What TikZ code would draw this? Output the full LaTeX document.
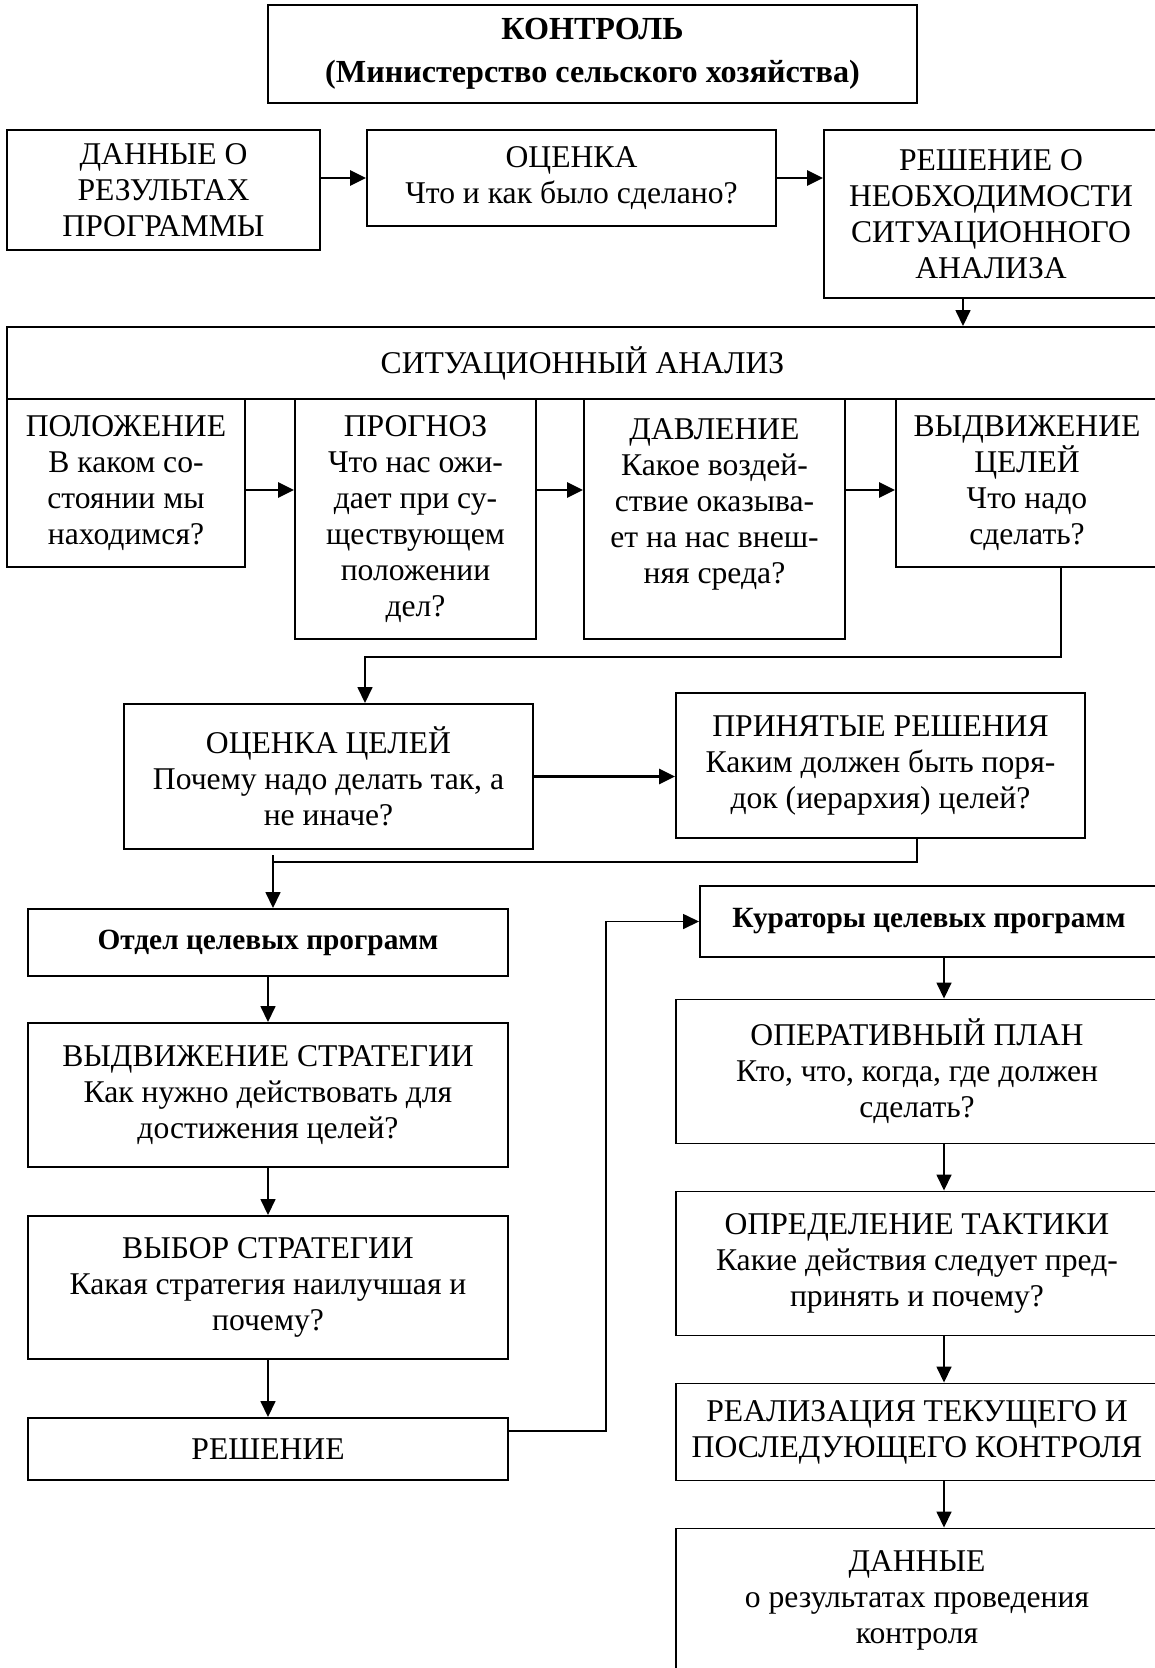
\documentclass[tikz,border=0pt]{standalone}
\usepackage{fontspec}
\setmainfont{Liberation Serif}
\usepackage{tikz}
\usetikzlibrary{shapes.geometric, arrows.meta}
\tikzstyle{block} = [rectangle, draw=black, line width=1.1pt, text centered, align=center, inner sep=2pt, font=\fontsize{18}{20.5}\selectfont]
\tikzstyle{titleblock} = [block, font=\bfseries\fontsize{18.3}{24.7}\selectfont]
\tikzstyle{boldblock} = [block, font=\bfseries\fontsize{16.7}{19}\selectfont]
\tikzstyle{arrow} = [line width=0.9pt,->,>={Triangle[length=0.32cm,width=0.3cm]}]
\tikzstyle{thickarrow} = [arrow, line width=1.6pt]
\tikzstyle{connector} = [line width=0.9pt]

\begin{document}
\begin{tikzpicture}[node distance=3cm]
                \useasboundingbox (0,0) rectangle (23.1,-33.36);
                \clip (0,0) rectangle (23.1,-33.36);

                \node (control) [titleblock, minimum width=12.98cm, minimum height=1.96cm] at (11.85,-1.08) {КОНТРОЛЬ\\(Министерство сельского хозяйства)};
                \node (data) [block, minimum width=6.26cm, minimum height=2.4cm] at (3.27,-3.8) {ДАННЫЕ О\\РЕЗУЛЬТАХ\\ПРОГРАММЫ};
                \node (eval) [block, minimum width=8.18cm, minimum height=1.92cm] at (11.43,-3.56) {ОЦЕНКА\\Что и как было сделано?};
                \node (decide) [block, minimum width=6.68cm, minimum height=3.36cm] at (19.82,-4.28) {РЕШЕНИЕ О\\НЕОБХОДИМОСТИ\\СИТУАЦИОННОГО\\АНАЛИЗА};

                \node (sit) [block, minimum width=23.02cm, minimum height=1.44cm] at (11.65,-7.26) {СИТУАЦИОННЫЙ АНАЛИЗ};
                \node (pos) [block, minimum width=4.76cm, minimum height=3.36cm] at (2.52,-9.66) {ПОЛОЖЕНИЕ\\В каком со-\\стоянии мы\\находимся?};
                \node (forecast) [block, minimum width=4.82cm, minimum height=4.8cm] at (8.31,-10.38) {ПРОГНОЗ\\Что нас ожи-\\дает при су-\\ществующем\\положении\\дел?};
                \node (pressure) [block, minimum width=5.22cm, minimum height=4.8cm] at (14.29,-10.38) {ДАВЛЕНИЕ\\Какое воздей-\\ствие оказыва-\\ет на нас внеш-\\няя среда?\\\mbox{}};
                \node (goals) [block, minimum width=5.24cm, minimum height=3.36cm] at (20.54,-9.66) {ВЫДВИЖЕНИЕ\\ЦЕЛЕЙ\\Что надо\\сделать?};

                \node (goaleval) [block, minimum width=8.18cm, minimum height=2.9cm] at (6.57,-15.53) {ОЦЕНКА ЦЕЛЕЙ\\Почему надо делать так, а\\не иначе?};
                \node (accepted) [block, minimum width=8.18cm, minimum height=2.9cm] at (17.61,-15.31) {ПРИНЯТЫЕ РЕШЕНИЯ\\Каким должен быть поря-\\док (иерархия) целей?};

                \node (dept) [boldblock, minimum width=9.6cm, minimum height=1.34cm] at (5.36,-18.85) {Отдел целевых программ};
                \node (strat) [block, minimum width=9.6cm, minimum height=2.88cm, below of=dept, yshift=-0.05cm] {ВЫДВИЖЕНИЕ СТРАТЕГИИ\\Как нужно действовать для\\достижения целей?};
                \node (choice) [block, minimum width=9.6cm, minimum height=2.86cm, below of=strat, yshift=-0.85cm] {ВЫБОР СТРАТЕГИИ\\Какая стратегия наилучшая и\\почему?};
                \node (solution) [block, minimum width=9.6cm, minimum height=1.24cm, below of=choice, yshift=-0.23cm] {РЕШЕНИЕ};

                \node (curators) [boldblock, minimum width=9.16cm, minimum height=1.42cm] at (18.58,-18.43) {Кураторы целевых программ};
                \node (opplan) [block, minimum width=9.64cm, minimum height=2.88cm, below of=curators, xshift=-0.24cm] {ОПЕРАТИВНЫЙ ПЛАН\\Кто, что, когда, где должен\\сделать?};
                \node (tactics) [block, minimum width=9.64cm, minimum height=2.88cm, below of=opplan, yshift=-0.84cm] {ОПРЕДЕЛЕНИЕ ТАКТИКИ\\Какие действия следует пред-\\принять и почему?};
                \node (realize) [block, minimum width=9.64cm, minimum height=1.94cm, below of=tactics, yshift=-0.37cm] {РЕАЛИЗАЦИЯ ТЕКУЩЕГО И\\ПОСЛЕДУЮЩЕГО КОНТРОЛЯ};
                \node (results) [block, minimum width=9.64cm, minimum height=2.88cm, below of=realize, yshift=-0.37cm] {ДАННЫЕ\\о результатах проведения\\контроля};

                \coordinate (row) at ([yshift=-0.14cm]pos.east);
                \coordinate (bend1) at (7.3,-13.14);
                \coordinate (bend2) at (5.46,-17.24);
                \coordinate (bend3) at (12.12,-28.62);
                \coordinate (rx) at (18.88,0);

                \draw [thickarrow] (eval.west -| data.east) -- (eval.west);
                \draw [thickarrow] (eval.east) -- (eval.east -| decide.west);
                \draw [arrow] ([xshift=-0.56cm]decide.south) -- ([xshift=-0.56cm]decide.south |- sit.north);
                \draw [thickarrow] (row) -- (row -| forecast.west);
                \draw [thickarrow] (row -| forecast.east) -- (row -| pressure.west);
                \draw [thickarrow] (row -| pressure.east) -- (row -| goals.west);
                \draw [arrow] ([xshift=0.68cm]goals.south) |- (bend1) -- (bend1 |- goaleval.north);
                \draw [thickarrow] (goaleval.east) -- (goaleval.east -| accepted.west);
                \draw [connector] ([xshift=0.73cm]accepted.south) |- (bend2);
                \draw [arrow] ([yshift=0.14cm]bend2) -- (bend2 |- dept.north);
                \draw [arrow] (dept) -- (strat);
                \draw [arrow] (strat) -- (choice);
                \draw [arrow] (choice) -- (solution);
                \draw [arrow] (bend3 -| solution.east) -- (bend3) |- (curators.west);
                \draw [arrow] (curators.south -| rx) -- (opplan.north -| rx);
                \draw [arrow] (opplan.south -| rx) -- (tactics.north -| rx);
                \draw [arrow] (tactics.south -| rx) -- (realize.north -| rx);
                \draw [arrow] (realize.south -| rx) -- (results.north -| rx);
            \end{tikzpicture}
\end{document}
